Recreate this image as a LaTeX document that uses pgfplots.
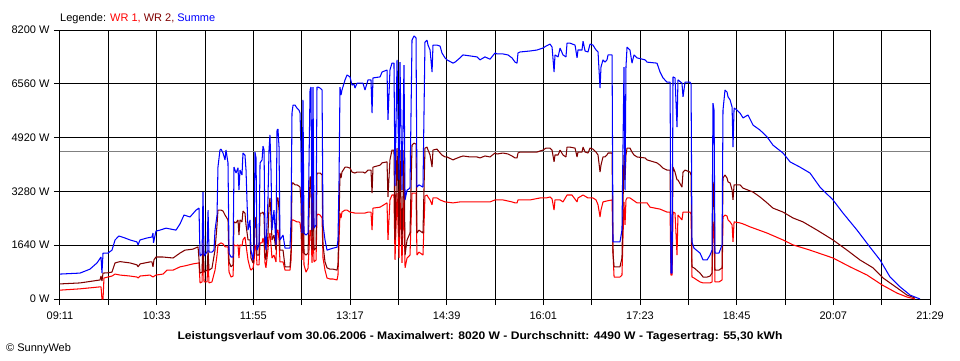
\documentclass[border=0pt]{standalone}
\usepackage{pgfplots}
\pgfplotsset{compat=1.18}
\usepackage{fontspec}
\setmainfont{Liberation Sans}
\definecolor{wrone}{HTML}{FF0000}
\definecolor{wrtwo}{HTML}{800000}
\definecolor{summe}{HTML}{0000FF}
\definecolor{avggray}{HTML}{808080}
\begin{document}
\begin{tikzpicture}[font=\fontsize{11}{13}\selectfont]
\useasboundingbox (-60pt,-61pt) rectangle (900pt,299pt);
\begin{axis}[at={(0pt,0pt)}, anchor=south west, scale only axis,
  width=870pt, height=269pt,
  xmin=551, xmax=1289, ymin=0, ymax=8200,
  xtick={551,592,633,674,715,756,797,838,879,920,961,1002,1043,1084,1125,1166,1207,1248,1289},
  xticklabels={09:11,{},10:33,{},11:55,{},13:17,{},14:39,{},16:01,{},17:23,{},18:45,{},20:07,{},21:29},
  ytick={0,1640,3280,4920,6560,8200},
  yticklabels={0 W,1640 W,3280 W,4920 W,6560 W,8200 W},
  xticklabel style={yshift=-3.5pt},
  yticklabel style={xshift=-1pt},
  grid=major, major grid style={black, line width=1pt},
  axis line style={black, line width=1pt},
  tick style={black, line width=1pt},
  tick align=outside, major tick length=6pt,
  xtick pos=lower, ytick pos=left,
  every axis plot/.append style={line width=1.05pt, line join=bevel, mark=none},
]
\addplot[avggray] coordinates {(551,4490)(1289,4490)};
% WR 1
\addplot[wrone] coordinates {
(551.0,270)(568.0,310)(584.9,370)(585.8,370)(586.6,0)(587.5,0)(588.3,640)(591.7,670)(595.1,700)(597.7,760)
(601.9,730)(610.4,700)(616.3,670)(617.2,640)(618.9,700)(627.3,730)(629.9,670)(632.4,730)(638.4,760)(641.8,880)
(646.9,880)(652.8,980)(657.0,1010)(663.8,1070)(668.9,1100)(669.8,490)(671.5,520)(672.3,1590)(673.2,520)(675.7,520)
(676.6,1190)(677.4,490)(679.9,520)(682.5,880)(684.2,1340)(685.0,1650)(687.6,1710)(689.3,1680)(691.0,1590)(693.5,1590)
(694.4,820)(696.1,670)(697.8,700)(698.6,1650)(700.3,1620)(702.0,1650)(702.8,1250)(703.7,1650)(705.4,1620)(706.2,1800)
(707.9,1890)(708.8,1650)(709.6,1430)(710.5,1190)(712.2,940)(713.0,880)(714.7,940)(715.6,1130)(716.4,1650)(717.3,1590)
(718.1,1040)(719.8,1040)(720.7,1710)(722.4,1710)(723.2,1860)(724.1,1710)(724.9,1100)(725.7,950)(727.4,1490)(728.3,1890)
(729.1,2010)(730.0,1650)(730.8,1250)(732.5,1340)(734.2,1130)(735.1,2100)(735.9,2100)(736.8,1800)(737.6,1130)(740.2,1130)
(741.9,880)(746.1,880)(747.0,1190)(747.8,2410)(748.7,2410)(750.4,2380)(752.0,2350)(753.7,2350)(754.6,2320)(755.4,2100)
(756.3,1190)(757.1,2500)(758.0,1040)(759.7,820)(761.4,940)(763.1,2100)(763.9,2040)(764.8,1100)(765.6,2100)(766.5,1130)
(768.2,1190)(769.0,2560)(769.9,2590)(771.6,2560)(773.3,2470)(774.1,1250)(775.8,880)(777.5,640)(780.0,610)(782.6,610)
(786.0,580)(786.8,730)(787.7,1800)(788.5,2620)(789.4,2470)(790.2,2650)(792.8,2710)(794.5,2710)(797.0,2650)(801.2,2620)
(808.0,2620)(809.7,2620)(812.3,2650)(814.8,2650)(815.7,2100)(816.5,2770)(822.5,2800)(828.4,2930)(829.2,1800)(830.9,3020)
(832.6,3170)(834.3,3170)(835.2,1190)(836.9,3230)(838.6,1250)(839.4,3170)(841.1,1100)(842.8,3170)(843.7,950)(845.4,1250)
(847.9,1340)(849.6,3230)(851.3,3230)(853.0,3230)(853.8,1340)(855.5,1430)(858.9,1340)(860.6,3140)(862.3,3170)(863.2,3110)
(864.9,3020)(866.6,2870)(867.4,3080)(870.8,3080)(873.4,3020)(877.6,2960)(884.4,2930)(890.3,2960)(898.8,2960)(907.3,2960)
(915.8,2960)(920.0,3020)(926.8,3020)(934.4,2960)(937.0,2930)(938.7,2930)(939.5,3020)(949.7,3020)(958.2,3080)(963.3,3080)
(966.7,3110)(968.4,3050)(970.1,2710)(970.9,3020)(975.2,3020)(977.7,2960)(981.1,3170)(985.3,3170)(989.6,2960)(990.4,3080)
(994.7,3170)(998.9,3080)(1003.1,3080)(1005.7,3020)(1007.4,2870)(1009.1,2500)(1009.9,2710)(1011.6,2960)(1015.0,2990)(1019.3,3020)
(1020.1,1400)(1021.0,670)(1026.0,670)(1027.7,730)(1029.4,2960)(1030.3,2260)(1031.1,3020)(1032.0,3080)(1034.5,3080)(1040.5,2930)
(1049.0,2930)(1051.5,2800)(1060.0,2740)(1065.9,2650)(1068.5,2650)(1069.3,730)(1070.2,730)(1071.0,2650)(1072.7,2620)(1074.4,1340)
(1075.2,2560)(1078.6,2410)(1079.5,2650)(1085.4,2650)(1086.3,2590)(1087.1,670)(1088.8,640)(1093.9,520)(1096.5,490)(1102.4,490)
(1104.1,520)(1104.9,2350)(1105.8,2100)(1106.6,520)(1110.0,520)(1112.6,580)(1113.4,2500)(1115.1,2560)(1116.8,2530)(1117.7,2410)
(1119.4,2350)(1121.1,2260)(1121.9,1740)(1122.8,2350)(1127.8,2320)(1130.4,2290)(1136.3,2200)(1150.8,2010)(1164.3,1800)(1172.8,1650)
(1187.2,1490)(1206.7,1250)(1221.2,980)(1235.6,730)(1248.3,430)(1261.0,180)(1269.5,60)(1276.3,0)
};
% WR 2
\addplot[wrtwo] coordinates {
(551.0,460)(568.0,490)(584.9,580)(585.8,700)(586.6,550)(587.5,790)(591.7,800)(595.1,820)(597.7,1100)(601.9,1140)
(610.4,1100)(616.3,1040)(617.2,980)(618.9,1070)(627.3,1130)(629.0,1130)(629.9,980)(630.7,1190)(632.4,1280)(638.4,1280)
(646.9,1250)(652.8,1400)(657.0,1490)(663.8,1520)(668.1,1590)(669.8,790)(671.5,820)(672.3,1890)(673.2,820)(675.7,880)
(676.6,1490)(677.4,880)(679.9,940)(682.5,1490)(684.2,2260)(685.0,2710)(687.6,2710)(689.3,2680)(691.0,2560)(693.5,2410)
(694.4,1130)(696.1,980)(697.8,1040)(698.6,2350)(700.3,2320)(702.0,2410)(702.8,1950)(703.7,2410)(705.4,2350)(706.2,2680)
(707.9,2620)(708.8,2260)(709.6,2040)(710.5,1800)(712.2,1800)(713.0,1250)(714.7,1100)(715.6,1340)(716.4,2500)(717.3,2410)
(718.1,1340)(719.8,1340)(720.7,2620)(722.4,2620)(723.2,2650)(724.1,2560)(724.9,1340)(725.7,1190)(727.4,1950)(728.3,2840)
(729.1,3080)(730.0,2560)(730.8,1800)(732.5,1950)(734.2,1490)(735.1,3080)(735.9,3080)(736.8,2710)(737.6,1490)(740.2,1490)
(741.9,980)(746.1,980)(747.0,1490)(747.8,3540)(748.7,3540)(750.4,3480)(752.0,3480)(753.7,3440)(754.6,3410)(755.4,3020)
(756.3,1400)(757.1,3840)(758.0,1400)(759.7,1340)(761.4,1400)(763.1,3720)(763.9,3720)(764.8,1490)(765.6,3720)(766.5,1490)
(768.2,1550)(769.0,3840)(769.9,3840)(771.6,3840)(773.3,3780)(774.1,1650)(775.8,1130)(777.5,950)(780.0,910)(782.6,910)
(786.0,880)(786.8,1040)(787.7,2410)(788.5,3840)(789.4,3690)(790.2,3870)(792.8,4020)(794.5,4020)(797.0,3990)(798.7,3870)
(801.2,3840)(803.0,3870)(808.0,3870)(809.7,3840)(812.3,3930)(814.8,3930)(815.7,3230)(816.5,4020)(822.5,4080)(824.2,4150)
(828.4,4180)(829.2,3110)(830.9,4240)(832.6,4540)(834.3,4540)(835.2,1800)(836.9,4600)(838.6,1890)(839.4,4540)(841.1,1650)
(842.8,4540)(843.7,1340)(845.4,1800)(847.9,2010)(849.6,4690)(851.3,4750)(853.0,4720)(853.8,2010)(855.5,2100)(858.9,2010)
(860.6,4600)(862.3,4630)(863.2,4540)(864.9,4390)(866.6,4020)(867.4,4540)(870.8,4570)(873.4,4450)(875.0,4390)(877.6,4330)
(879.3,4330)(884.4,4240)(886.1,4270)(890.3,4330)(892.9,4360)(898.8,4330)(904.7,4330)(907.3,4300)(911.5,4360)(915.8,4330)
(920.0,4450)(921.7,4420)(926.8,4450)(931.0,4420)(934.4,4360)(937.0,4300)(938.7,4300)(939.5,4450)(941.2,4480)(949.7,4480)
(955.6,4480)(960.7,4540)(963.3,4600)(966.7,4600)(968.4,4540)(970.1,4180)(970.9,4390)(973.5,4390)(975.2,4540)(977.7,4390)
(980.2,4330)(981.1,4630)(983.6,4630)(987.9,4600)(989.6,4330)(990.4,4480)(993.8,4480)(994.7,4630)(996.4,4480)(998.9,4450)
(1000.6,4600)(1003.1,4570)(1005.7,4480)(1007.4,4390)(1009.1,3870)(1009.9,4080)(1011.6,4330)(1013.3,4330)(1015.0,4390)(1015.9,4450)
(1019.3,4450)(1020.1,1400)(1021.0,980)(1026.0,980)(1027.7,1250)(1029.4,4390)(1030.3,3630)(1031.1,4390)(1032.0,4600)(1034.5,4600)
(1036.2,4480)(1037.9,4390)(1040.5,4330)(1047.3,4300)(1049.0,4240)(1057.4,4150)(1060.0,4080)(1062.5,3990)(1065.9,3930)(1068.5,3930)
(1069.3,1100)(1070.2,1100)(1071.0,4020)(1072.7,3870)(1074.4,3630)(1075.2,3630)(1078.6,3410)(1079.5,3870)(1081.2,3930)(1085.4,3870)
(1086.3,3780)(1087.1,980)(1088.8,950)(1093.9,790)(1096.5,670)(1099.9,670)(1102.4,700)(1104.1,790)(1104.9,3570)(1105.8,3320)
(1106.6,880)(1110.0,880)(1112.6,950)(1113.4,3690)(1115.1,3780)(1116.8,3690)(1117.7,3570)(1119.4,3540)(1121.1,3320)(1121.9,3020)
(1122.8,3480)(1125.3,3480)(1127.8,3480)(1130.4,3380)(1134.6,3320)(1138.9,3260)(1144.8,3110)(1150.8,2930)(1155.8,2770)(1164.3,2650)
(1172.8,2470)(1181.3,2350)(1193.2,2100)(1206.7,1800)(1218.6,1490)(1229.6,1190)(1240.7,950)(1249.2,640)(1261.0,340)(1269.5,120)
(1276.3,30)
};
% Summe
\addplot[summe] coordinates {
(551.0,760)(568.0,790)(576.4,910)(582.4,1100)(585.8,1280)(586.6,790)(587.5,1400)(591.7,1400)(595.1,1490)(597.7,1800)
(601.0,1920)(606.1,1860)(610.4,1800)(616.3,1740)(617.2,1650)(618.9,1800)(624.8,1860)(629.0,1890)(629.9,2010)(630.3,1710)
(632.4,2070)(635.8,2100)(640.9,2160)(649.4,2100)(652.8,2290)(656.2,2560)(661.3,2500)(666.4,2710)(668.9,2770)(669.8,1310)
(671.5,1370)(672.3,3260)(673.2,1310)(675.7,1430)(676.6,2710)(677.4,1430)(679.9,1430)(681.6,1490)(682.5,2100)(684.2,2560)
(685.0,4020)(686.7,4540)(687.6,4570)(689.3,4450)(691.0,4240)(691.8,4540)(693.5,4150)(694.4,1400)(696.1,1280)(697.8,1280)
(698.6,4020)(700.3,3840)(702.0,4000)(702.8,3320)(703.7,3930)(705.4,3780)(706.2,4450)(707.9,4390)(708.8,3930)(709.6,3020)
(710.5,2100)(712.2,2410)(713.0,1490)(714.7,1190)(715.6,1650)(716.4,4480)(717.3,4300)(718.1,1490)(719.8,1650)(720.7,4150)
(722.4,4240)(723.2,4660)(724.1,4540)(724.9,1800)(725.7,1490)(727.4,3020)(728.3,4540)(729.1,5000)(730.0,3930)(730.8,2100)
(732.5,2710)(734.2,1650)(735.1,5150)(735.9,5180)(736.8,4630)(737.6,1800)(740.2,1950)(741.9,1550)(746.1,1550)(747.0,2410)
(747.8,5670)(748.7,5910)(750.4,5910)(752.0,5820)(753.7,5760)(754.6,5670)(755.4,4630)(756.3,2010)(757.1,6070)(758.0,2010)
(759.7,1950)(761.4,2010)(763.1,6370)(763.9,6460)(764.8,2100)(765.6,6460)(766.5,2160)(768.2,2260)(769.0,6460)(769.9,6460)
(771.6,6430)(773.3,6370)(774.1,2260)(775.8,1800)(777.5,1490)(780.0,1520)(782.6,1550)(786.0,1580)(786.8,1800)(787.7,3620)
(788.5,6460)(789.4,6220)(790.2,6370)(792.8,6680)(794.5,6830)(797.0,6770)(798.7,6520)(800.4,6550)(801.2,6430)(803.0,6580)
(808.0,6580)(809.7,6370)(812.3,6680)(814.8,6680)(815.7,5670)(816.5,6740)(822.5,6770)(824.2,6920)(828.4,6980)(829.2,5460)
(830.9,6980)(832.6,7190)(834.3,7190)(835.2,3440)(836.9,7290)(838.6,3630)(839.4,7220)(841.1,3320)(842.8,7130)(843.7,3020)
(845.4,3320)(847.9,3380)(849.6,7890)(851.3,8020)(853.0,7960)(853.8,3410)(855.5,3480)(858.9,3410)(860.6,7830)(862.3,7890)
(863.2,7740)(864.9,7590)(866.6,6920)(867.4,7740)(870.8,7740)(873.4,7710)(875.0,7500)(877.6,7350)(879.3,7290)(884.4,7190)
(886.1,7220)(890.3,7350)(892.9,7440)(898.8,7410)(904.7,7380)(907.3,7290)(911.5,7380)(915.8,7310)(920.0,7500)(921.7,7470)
(926.8,7470)(931.0,7440)(934.4,7350)(937.0,7220)(938.7,7190)(939.5,7500)(941.2,7530)(949.7,7560)(955.6,7590)(960.7,7650)
(963.3,7710)(966.7,7770)(968.4,7680)(970.1,6920)(970.9,7440)(973.5,7380)(975.2,7650)(977.7,7440)(980.2,7380)(981.1,7800)
(983.6,7800)(987.9,7740)(989.6,7350)(990.4,7590)(993.8,7590)(994.7,7860)(996.4,7560)(998.9,7530)(1000.6,7770)(1003.1,7740)
(1005.7,7590)(1007.4,7530)(1009.1,6430)(1009.9,7070)(1011.6,7290)(1013.3,7220)(1015.0,7290)(1015.9,7440)(1019.3,7440)(1020.1,1740)
(1021.8,1740)(1026.0,1740)(1027.7,2100)(1029.4,7070)(1030.3,3310)(1031.1,7070)(1032.0,7680)(1034.5,7590)(1036.2,7190)(1037.9,7440)
(1040.5,7350)(1047.3,7290)(1049.0,7220)(1057.4,7190)(1060.0,6920)(1062.5,6740)(1065.9,6610)(1068.5,6610)(1069.3,790)(1070.2,790)
(1071.0,6770)(1072.7,6740)(1074.4,5240)(1075.2,6680)(1078.6,6580)(1079.5,6160)(1081.2,6610)(1085.4,6610)(1086.3,6550)(1087.1,1740)
(1088.8,1550)(1093.9,1400)(1096.5,1190)(1099.9,1190)(1102.4,1340)(1104.1,1490)(1104.9,5970)(1105.8,5760)(1106.6,1400)(1110.0,1400)
(1112.6,1650)(1113.4,5760)(1115.1,6370)(1116.8,6310)(1117.7,6160)(1119.4,6070)(1121.1,5850)(1121.9,4630)(1122.8,5820)(1125.3,5760)
(1127.8,5670)(1130.4,5520)(1134.6,5610)(1138.9,5300)(1144.8,5150)(1150.8,4940)(1155.8,4690)(1164.3,4450)(1170.3,4180)(1178.7,4020)
(1187.2,3840)(1195.7,3410)(1206.7,3020)(1215.2,2620)(1227.1,2100)(1238.1,1580)(1246.6,1190)(1255.1,670)(1263.6,370)(1272.1,120)
(1280.5,0)
};
\end{axis}
\node[anchor=base west, inner sep=0pt] at (0pt,278pt) {Legende: \textcolor{wrone}{WR 1,} \textcolor{wrtwo}{WR 2,} \textcolor{summe}{Summe}};
\node[anchor=center, inner sep=0pt] at (420pt,-38pt) {\scalebox{1.1}[1]{\bfseries Leistungsverlauf vom 30.06.2006 - Maximalwert: 8020 W - Durchschnitt: 4490 W - Tagesertrag: 55,30 kWh}};
\node[anchor=west, inner sep=0pt] at (-54pt,-50pt) {\textcopyright{} SunnyWeb};
\end{tikzpicture}
\end{document}
